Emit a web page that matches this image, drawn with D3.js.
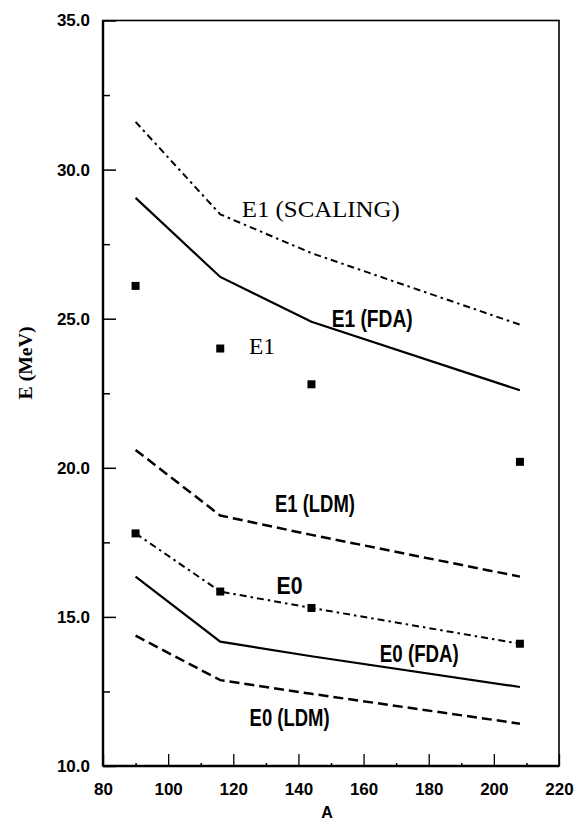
<!DOCTYPE html>
<html><head><meta charset="utf-8">
<script src="https://cdn.jsdelivr.net/npm/d3@7"></script>
<style>
html,body{margin:0;padding:0;background:#fff;}
svg{display:block;}
</style></head>
<body>
<script>
// ---- data ----
const nuclei = [90, 116, 144, 208];
const e1Exp = [26.1, 24.0, 22.8, 20.2];
const e0Exp = [17.8, 15.85, 15.3, 14.1];
const e1Scaling = [31.6, 28.5, 27.2, 24.8];
const e1Fda = [29.05, 26.4, 24.9, 22.6];
const e1Ldm = [20.6, 18.4, 17.75, 16.35];
const e0Fda = [16.35, 14.17, 13.68, 12.65];
const e0Ldm = [14.37, 12.88, 12.42, 11.42];
const xTicks = [80, 100, 120, 140, 160, 180, 200, 220];
const xMinor = [90, 110, 130, 150, 170, 190, 210];
const yTicks = [10, 15, 20, 25, 30, 35];
const yMinor = [12.5, 17.5, 22.5, 27.5, 32.5];
const labels = [
  {text: "E1 (SCALING)", A: 122.6, E: 28.4, w: 158, serif: true},
  {text: "E1 (FDA)", A: 150.2, E: 24.72, w: 81, serif: false},
  {text: "E1", A: 124.8, E: 23.8, w: 26, serif: true},
  {text: "E1 (LDM)", A: 132.8, E: 18.51, w: 80, serif: false},
  {text: "E0", A: 133.3, E: 15.78, w: 26, serif: false},
  {text: "E0 (FDA)", A: 165, E: 13.49, w: 79, serif: false},
  {text: "E0 (LDM)", A: 125, E: 11.35, w: 80, serif: false}
];

const W = 578, H = 823;
const svg = d3.select("body").append("svg").attr("width", W).attr("height", H);

const x = d3.scaleLinear().domain([80, 220]).range([103, 559]);
const y = d3.scaleLinear().domain([10, 35]).range([766, 20.5]);

// frame
svg.append("rect").attr("x", x(80)).attr("y", y(35))
  .attr("width", x(220) - x(80)).attr("height", y(10) - y(35))
  .attr("fill", "none").attr("stroke", "#000").attr("stroke-width", 1.6);
svg.append("line").attr("x1", x(80)).attr("x2", x(80)).attr("y1", y(35)).attr("y2", y(10))
  .attr("stroke", "#000").attr("stroke-width", 2.4);
svg.append("line").attr("x1", x(80)).attr("x2", x(220)).attr("y1", y(10)).attr("y2", y(10))
  .attr("stroke", "#000").attr("stroke-width", 2.4);

// x axis
const xAxis = d3.axisBottom(x).tickValues(xTicks).tickSize(-12).tickPadding(17)
  .tickFormat(d3.format("d"));
const gx = svg.append("g").attr("transform", `translate(0,${y(10)})`).call(xAxis);
gx.select(".domain").remove();
gx.selectAll(".tick line").attr("stroke", "#000").attr("stroke-width", 1.3);
gx.selectAll(".tick text").attr("font-family", "'Liberation Sans', Arial, sans-serif")
  .attr("font-weight", "bold").attr("font-size", 17).attr("fill", "#000");
const xAxisMinor = d3.axisBottom(x).tickValues(xMinor).tickSize(-3).tickFormat("");
const gxm = svg.append("g").attr("transform", `translate(0,${y(10)})`).call(xAxisMinor);
gxm.select(".domain").remove();
gxm.selectAll(".tick line").attr("stroke", "#000").attr("stroke-width", 1.5);

// y axis
const yAxis = d3.axisLeft(y).tickValues(yTicks).tickSize(-13).tickPadding(13)
  .tickFormat(d3.format(".1f"));
const gy = svg.append("g").attr("transform", `translate(${x(80)},0)`).call(yAxis);
gy.select(".domain").remove();
gy.selectAll(".tick line").attr("stroke", "#000").attr("stroke-width", 1.5);
gy.selectAll(".tick text").attr("font-family", "'Liberation Sans', Arial, sans-serif")
  .attr("font-weight", "bold").attr("font-size", 17).attr("fill", "#000");
const yAxisMinor = d3.axisLeft(y).tickValues(yMinor).tickSize(-7).tickFormat("");
const gym = svg.append("g").attr("transform", `translate(${x(80)},0)`).call(yAxisMinor);
gym.select(".domain").remove();
gym.selectAll(".tick line").attr("stroke", "#000").attr("stroke-width", 1.5);

// axis titles
svg.append("text").attr("x", 327).attr("y", 818).attr("text-anchor", "middle")
  .attr("font-family", "'Liberation Sans', Arial, sans-serif").attr("font-weight", "bold")
  .attr("font-size", 16).text("A");
svg.append("text").attr("transform", "translate(32,363) rotate(-90)").attr("text-anchor", "middle")
  .attr("font-family", "'Liberation Serif', 'Times New Roman', serif").attr("font-weight", "bold")
  .attr("font-size", 19).attr("textLength", 73).attr("lengthAdjust", "spacingAndGlyphs")
  .text("E (MeV)");

// lines
const line = d3.line().x((d, i) => x(nuclei[i])).y(d => y(d));
const series = [
  {vals: e1Scaling, dash: "7,4,2.5,4", w: 2},
  {vals: e1Fda, dash: null, w: 2.2},
  {vals: e1Ldm, dash: "10,5", w: 2.5},
  {vals: e0Exp, dash: "7,4,2.5,4", w: 2},
  {vals: e0Fda, dash: null, w: 2.2},
  {vals: e0Ldm, dash: "10,5", w: 2.5}
];
series.forEach(s => {
  svg.append("path").datum(s.vals).attr("d", line)
    .attr("fill", "none").attr("stroke", "#000").attr("stroke-width", s.w)
    .attr("stroke-dasharray", s.dash);
});

// squares
const sq = 8;
[e1Exp, e0Exp].forEach(vals => {
  svg.append("g").selectAll("rect").data(vals).join("rect")
    .attr("x", (d, i) => x(nuclei[i]) - sq / 2).attr("y", d => y(d) - sq / 2)
    .attr("width", sq).attr("height", sq).attr("fill", "#000");
});

// labels
labels.forEach(l => {
  svg.append("text").attr("x", x(l.A)).attr("y", y(l.E))
    .attr("font-family", l.serif ? "'Liberation Serif', 'Times New Roman', serif"
                                 : "'Liberation Sans Narrow', 'Arial Narrow', 'Liberation Sans', sans-serif")
    .attr("font-size", l.serif ? 23 : 23)
    .attr("font-weight", l.serif ? "normal" : "bold")
    .attr("textLength", l.w).attr("lengthAdjust", "spacingAndGlyphs")
    .attr("fill", "#000").text(l.text);
});
</script>
</body></html>
